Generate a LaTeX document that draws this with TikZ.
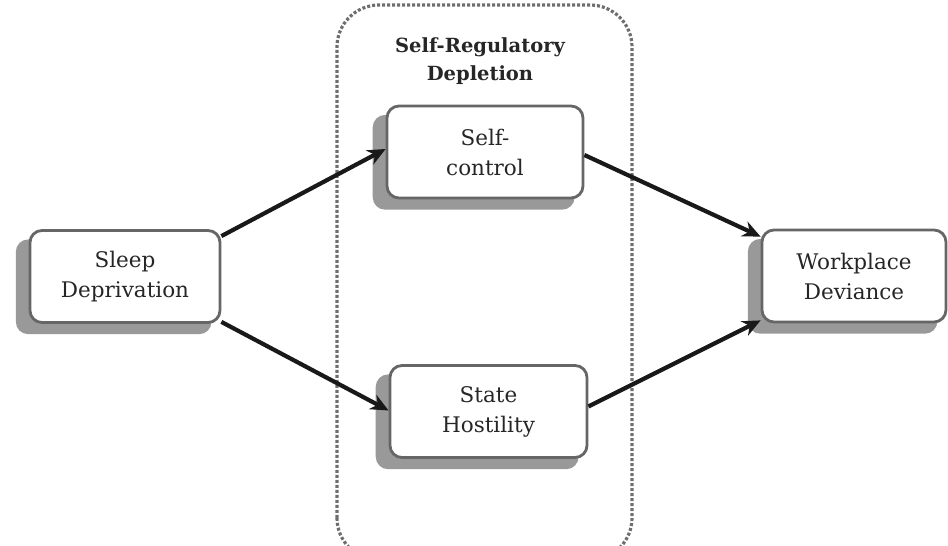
\documentclass[tikz,border=0pt]{standalone}
\usepackage{fontspec}
\setmainfont{DejaVu Serif}
\usetikzlibrary{arrows.meta,shadows}
\definecolor{boxline}{HTML}{666666}
\definecolor{shadowgray}{HTML}{999999}
\definecolor{dotgray}{HTML}{6E6E6E}
\begin{document}
\begin{tikzpicture}[x=1pt,y=1pt,
  procbox/.style={draw=boxline, line width=2.8pt, rounded corners=12pt, fill=white,
    minimum width=192pt, minimum height=92pt, align=center,
    font=\fontsize{21.5}{30}\selectfont, text=black!85,
    drop shadow={shadow xshift=-11pt, shadow yshift=-10pt, fill=shadowgray, opacity=1, shadow scale=1.03}},
  conn/.style={line width=4.2pt, black!90, -{Stealth[length=18pt,width=16pt]}},
  container/.style={draw=dotgray, line width=3.2pt, dash pattern=on 3pt off 2pt, rounded corners=42pt}
]
\useasboundingbox (0,0) rectangle (948,546);
\begin{scope}
\clip (0,0) rectangle (948,546);
\draw[container] (337,-14) rectangle (632,541);
\end{scope}
\node[font=\bfseries\fontsize{19.5}{28}\selectfont, align=center, text=black!85] (title) at (480,485) {Self-Regulatory\\Depletion};
\node[procbox, minimum width=190pt] (sleep) at (125,269.5) {Sleep\\Deprivation};
\node[procbox, minimum width=196pt] (sc) at (485,394) {Self-\\control};
\node[procbox, minimum width=197pt] (st) at (488.5,134.5) {State\\Hostility};
\node[procbox, minimum width=184pt] (wp) at (854,270) {Workplace\\Deviance};
\draw[conn] ([yshift=-7pt]sleep.north east) -- ([yshift=3pt]sc.west);
\draw[conn] ([yshift=2pt]sleep.south east) -- ([yshift=1pt]st.west);
\draw[conn] ([yshift=-3pt]sc.east) -- ([yshift=-8pt]wp.north west);
\draw[conn] ([yshift=5pt]st.east) -- ([yshift=3pt]wp.south west);
\end{tikzpicture}
\end{document}
